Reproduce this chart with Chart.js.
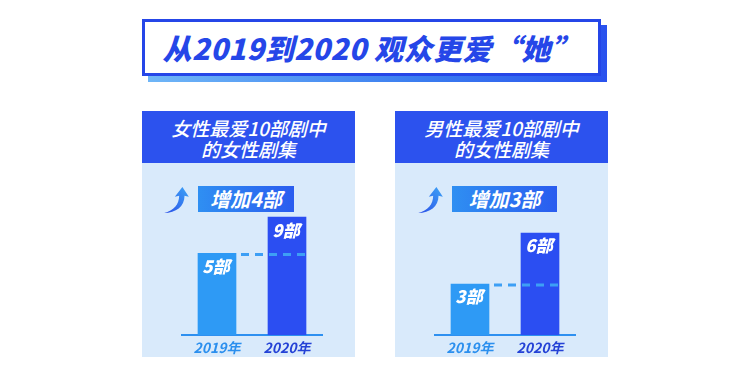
<!DOCTYPE html>
<html>
<head>
<meta charset="utf-8">
<script src="https://cdn.jsdelivr.net/npm/chart.js@4"></script>
<style>
  html, body { margin: 0; padding: 0; background: #ffffff; }
  body { width: 750px; height: 387px; position: relative; overflow: hidden;
         font-family: "Noto Sans CJK SC", "Noto Sans", sans-serif; }
  .titleShadow { position: absolute; left: 148px; top: 25px; width: 459px; height: 57px;
                 background: linear-gradient(90deg, #6fb6f7, #3a7cf0 60%, #2a52ee); }
  .title { position: absolute; left: 142px; top: 19px; width: 453px; height: 51px;
           border: 3px solid #2546e8; background: #fff; color: #2546e8;
           font-size: 29px; font-weight: 900; font-style: italic; line-height: 51px;
           text-align: center; letter-spacing: 0.5px; }
  .panel { position: absolute; top: 111px; width: 213px; height: 246px; background: #d9eafb; }
  .head { position: absolute; left: 0; top: 0; width: 100%; height: 52px; background: #2c52ee;
          color: #fff; font-size: 19px; font-weight: 500; line-height: 21px; text-align: center;
          padding-top: 6px; box-sizing: border-box; font-style: italic; }
  .tag { position: absolute; height: 26px; top: 75px;
         background: linear-gradient(90deg, #2f8ff2, #2a5cef); color: #fff;
         font-size: 20px; font-weight: 700; line-height: 26px; text-align: center; font-style: italic; }
  .arrow { position: absolute; top: 75px; width: 28px; height: 28px; }
  canvas { position: absolute; }
</style>
</head>
<body>
<div class="titleShadow"></div>
<div class="title">从2019到2020 观众更爱“她”</div>

<div class="panel" style="left:142px">
  <div class="head">女性最爱10部剧中<br>的女性剧集</div>
  <svg class="arrow" style="left:21px" viewBox="0 0 26 26">
    <defs><linearGradient id="ga" x1="0" y1="1" x2="1" y2="0">
      <stop offset="0" stop-color="#2a4fe8"/><stop offset="1" stop-color="#3ea4f6"/></linearGradient></defs>
    <path d="M1 25 C10 23 15 17 15 9 L11 10 L18 1 L24 10 L20 9 C20 19 12 25 1 25 Z" fill="url(#ga)"/>
  </svg>
  <div class="tag" style="left:56px;width:96px">增加4部</div>
</div>

<div class="panel" style="left:395px">
  <div class="head">男性最爱10部剧中<br>的女性剧集</div>
  <svg class="arrow" style="left:22px" viewBox="0 0 26 26">
    <defs><linearGradient id="gb" x1="0" y1="1" x2="1" y2="0">
      <stop offset="0" stop-color="#2a4fe8"/><stop offset="1" stop-color="#3ea4f6"/></linearGradient></defs>
    <path d="M1 25 C10 23 15 17 15 9 L11 10 L18 1 L24 10 L20 9 C20 19 12 25 1 25 Z" fill="url(#gb)"/>
  </svg>
  <div class="tag" style="left:57px;width:105px">增加3部</div>
</div>

<canvas id="left" width="213" height="167" style="left:142px;top:190px"></canvas>
<canvas id="right" width="213" height="167" style="left:395px;top:190px"></canvas>

<script>
const years = ['2019年', '2020年'];
const womenTop10 = [5, 9];   // female shows in women's top 10
const menTop10 = [3, 6];     // female shows in men's top 10
const unit = '部';

const barColors = ['#2e9af5', '#2b4ef2'];
const tickColors = ['#2b8fee', '#2442d6'];

// value labels inside the bars + dashed guide at the 2019 level
const barDecor = {
  id: 'barDecor',
  afterDatasetsDraw(chart) {
    const ctx = chart.ctx;
    const meta = chart.getDatasetMeta(0);
    const vals = chart.data.datasets[0].data;
    const y = chart.scales.y.getPixelForValue(vals[0]);
    const b0 = meta.data[0], b1 = meta.data[1];
    ctx.save();
    ctx.strokeStyle = '#3d9ff5';
    ctx.lineWidth = 3;
    ctx.setLineDash([8, 6]);
    ctx.beginPath();
    ctx.moveTo(b0.x + b0.width / 2 + 5, y + 1);
    ctx.lineTo(b1.x + b1.width / 2, y + 1);
    ctx.stroke();
    ctx.setLineDash([]);
    ctx.fillStyle = '#ffffff';
    ctx.font = 'italic 900 17px "Noto Sans CJK SC"';
    ctx.textAlign = 'center';
    ctx.textBaseline = 'middle';
    meta.data.forEach((bar, i) => {
      ctx.fillText(vals[i] + unit, bar.x - 1, bar.y + 13);
    });
    ctx.restore();
  }
};

function makeChart(id, values, yMin, yMax) {
  return new Chart(document.getElementById(id), {
    type: 'bar',
    data: {
      labels: years,
      datasets: [{
        data: values,
        base: yMin,
        backgroundColor: barColors,
        barThickness: 38,
        categoryPercentage: 1
      }]
    },
    options: {
      responsive: false,
      animation: false,
      layout: { padding: { left: 40, right: 33, top: 9, bottom: 0 } },
      plugins: { legend: { display: false }, tooltip: { enabled: false } },
      scales: {
        x: {
          grid: { display: false, drawTicks: false },
          border: { display: true, color: '#2e90f0', width: 2 },
          ticks: {
            padding: 4,
            color: (c) => tickColors[c.index],
            font: { family: 'Noto Sans CJK SC', size: 14, weight: '700', style: 'italic' }
          },
          afterFit(axis) { axis.height = 22; }
        },
        y: { display: false, min: yMin, max: yMax }
      }
    },
    plugins: [barDecor]
  });
}

makeChart('left', womenTop10, -4, 11);
makeChart('right', menTop10, 0, 8);
</script>
</body>
</html>
